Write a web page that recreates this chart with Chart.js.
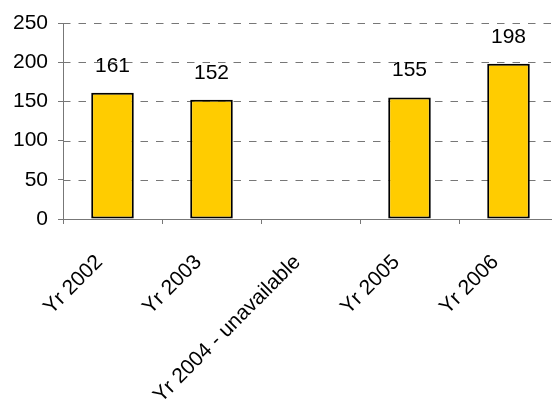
<!DOCTYPE html>
<html>
<head>
<meta charset="utf-8">
<script src="https://cdn.jsdelivr.net/npm/chart.js@4/dist/chart.umd.min.js"></script>
<style>
  html, body { margin: 0; padding: 0; background: #fff; overflow: hidden; }
  #wrap { width: 560px; height: 404px; }
</style>
</head>
<body>
<div id="wrap"><canvas id="chartTahun" width="560" height="404"></canvas></div>
<script>
// ======================================
// DATA
// ======================================

const kategori = ["Yr 2002", "Yr 2003", "Yr 2004 - unavailable", "Yr 2005", "Yr 2006"];
const nilai = [161, 152, null, 155, 198];
const tickY = [0, 50, 100, 150, 200, 250];

const WARNA_BAR = "#FFCC00";
const WARNA_GARIS = "#777777";

// ======================================
// PLUGIN: garis bantu putus-putus
// (digambar sendiri dari skala y, karena dash bawaan tidak kelihatan)
// ======================================

const garisPutus = {
  id: "garisPutus",
  beforeDatasetsDraw(chart) {
    const ctx = chart.ctx;
    const area = chart.chartArea;
    const y = chart.scales.y;
    ctx.save();
    ctx.strokeStyle = WARNA_GARIS;
    ctx.lineWidth = 1;
    ctx.setLineDash([7.5, 8]);
    tickY.forEach((v) => {
      if (v === 0) return;
      const py = Math.round(y.getPixelForValue(v)) + 0.5;
      ctx.beginPath();
      ctx.moveTo(area.left, py);
      ctx.lineTo(area.right, py);
      ctx.stroke();
    });
    ctx.restore();
  },
};

// ======================================
// PLUGIN: angka di atas bar
// ======================================

const labelAtasBar = {
  id: "labelAtasBar",
  afterDatasetsDraw(chart) {
    const ctx = chart.ctx;
    const meta = chart.getDatasetMeta(0);
    ctx.save();
    ctx.font = "21px 'Liberation Sans', Arial, sans-serif";
    ctx.fillStyle = "#000";
    ctx.textAlign = "center";
    ctx.textBaseline = "middle";
    meta.data.forEach((bar, i) => {
      const v = chart.data.datasets[0].data[i];
      if (v === null || v === undefined) return;
      ctx.fillText(String(v), bar.x, bar.y - 27);
    });
    ctx.restore();
  },
};

// ======================================
// GRAFIK
// ======================================

Chart.defaults.font.family = "'Liberation Sans', Arial, sans-serif";
Chart.defaults.font.size = 21;
Chart.defaults.color = "#000";

new Chart(document.getElementById("chartTahun"), {
  type: "bar",
  data: {
    labels: kategori,
    datasets: [
      {
        data: nilai,
        backgroundColor: WARNA_BAR,
        borderColor: "#000",
        borderWidth: 2,
        borderSkipped: false,
        barPercentage: 0.43,
        categoryPercentage: 1,
      },
    ],
  },
  options: {
    responsive: false,
    animation: false,
    devicePixelRatio: 1,
    layout: { padding: { top: 23, right: 2, left: 0, bottom: 0 } },
    plugins: {
      legend: { display: false },
      tooltip: { enabled: false },
    },
    scales: {
      x: {
        offset: true,
        grid: {
          offset: true,
          drawOnChartArea: false,
          drawTicks: true,
          tickLength: 5,
          color: WARNA_GARIS,
        },
        border: { color: WARNA_GARIS, width: 1 },
        ticks: {
          autoSkip: false,
          minRotation: 45,
          maxRotation: 45,
          padding: 26,
          labelOffset: -13,
        },
        afterFit: (scale) => {
          scale.height = 185;
        },
      },
      y: {
        min: 0,
        max: 250,
        afterBuildTicks: (scale) => {
          scale.ticks = tickY.map((v) => ({ value: v }));
        },
        grid: {
          color: WARNA_GARIS,
          lineWidth: 1,
          tickLength: 5,
          drawOnChartArea: false,
        },
        border: { color: WARNA_GARIS, width: 1 },
        ticks: { padding: 10 },
        afterFit: (scale) => {
          scale.width = 63;
        },
      },
    },
  },
  plugins: [garisPutus, labelAtasBar],
});
</script>
</body>
</html>
